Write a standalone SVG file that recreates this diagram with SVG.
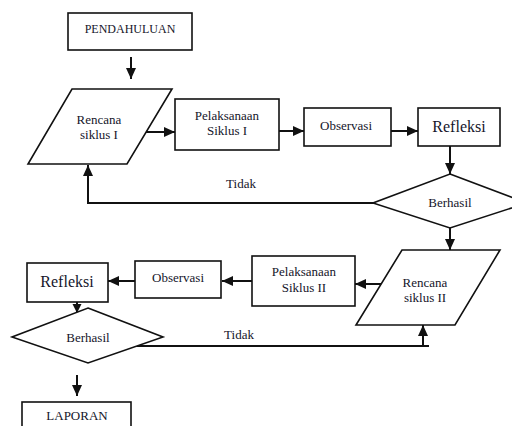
<svg xmlns="http://www.w3.org/2000/svg" width="512" height="426" viewBox="0 0 512 426">
<style>
.box{fill:#fff;stroke:#111;stroke-width:1.6}
.ln{fill:none;stroke:#111;stroke-width:2}
.t{font-family:'Liberation Serif','DejaVu Serif',serif;fill:#15152a;font-size:13px;text-anchor:middle}
.big{font-size:16px}
.sm{font-size:12px}
</style>
<defs>
<marker id="ah" markerUnits="userSpaceOnUse" markerWidth="12" markerHeight="12" viewBox="0 0 12 12" refX="11" refY="6" orient="auto">
<path d="M0,1 L11,6 L0,11 Z" fill="#111"/>
</marker>
<marker id="ahs" markerUnits="userSpaceOnUse" markerWidth="10" markerHeight="10" viewBox="0 0 10 10" refX="9" refY="5" orient="auto">
<path d="M0,0.5 L9,5 L0,9.5 Z" fill="#111"/>
</marker>
</defs>
<rect width="512" height="426" fill="#fff"/>
<g id="connectors">
<line class="ln" x1="131" y1="57" x2="131" y2="79" marker-end="url(#ah)"/>
<line class="ln" x1="146" y1="132" x2="175" y2="132" marker-end="url(#ah)"/>
<line class="ln" x1="279" y1="131" x2="304" y2="131" marker-end="url(#ah)"/>
<line class="ln" x1="391" y1="131" x2="418" y2="131" marker-end="url(#ah)"/>
<line class="ln" x1="450" y1="146" x2="450" y2="174" marker-end="url(#ah)"/>
<path class="ln" d="M396,203 L88,203 L88,165" marker-end="url(#ah)"/>
<line class="ln" x1="450" y1="228" x2="450" y2="250" marker-end="url(#ah)"/>
<line class="ln" x1="381" y1="284" x2="355" y2="284" marker-end="url(#ah)"/>
<line class="ln" x1="252" y1="281" x2="222" y2="281" marker-end="url(#ah)"/>
<line class="ln" x1="135" y1="281" x2="108" y2="281" marker-end="url(#ah)"/>
<line class="ln" x1="77" y1="302" x2="77" y2="313" marker-end="url(#ahs)"/>
<path class="ln" d="M119,346 L429,346"/>
<line class="ln" x1="423" y1="346" x2="423" y2="325" marker-end="url(#ah)"/>
<line class="ln" x1="77" y1="375" x2="77" y2="396" marker-end="url(#ah)"/>
<text class="t" x="241" y="188">Tidak</text>
<text class="t" x="239" y="339">Tidak</text>
</g>
<g id="pendahuluan">
<rect class="box" x="68" y="13" width="124" height="37"/>
<text class="t sm" x="130" y="33">PENDAHULUAN</text>
</g>
<g id="rencana1">
<polygon class="box" points="72,89 172,89 127,164 28,164"/>
<text class="t" x="99" y="124">Rencana</text>
<text class="t" x="99" y="139">siklus I</text>
</g>
<g id="pelaksanaan1">
<rect class="box" x="175" y="99" width="104" height="51"/>
<text class="t" x="227" y="120">Pelaksanaan</text>
<text class="t" x="227" y="135">Siklus I</text>
</g>
<g id="observasi1">
<rect class="box" x="304" y="108" width="87" height="38"/>
<text class="t" x="346" y="130">Observasi</text>
</g>
<g id="refleksi1">
<rect class="box" x="418" y="108" width="82" height="38"/>
<text class="t big" x="459" y="132">Refleksi</text>
</g>
<g id="berhasil1">
<polygon class="box" points="450,174 527,203 450,228 373,203"/>
<text class="t" x="450" y="207">Berhasil</text>
</g>
<g id="rencana2">
<polygon class="box" points="402,250 500,250 455,325 356,325"/>
<text class="t" x="425" y="287">Rencana</text>
<text class="t" x="425" y="302">siklus II</text>
</g>
<g id="pelaksanaan2">
<rect class="box" x="252" y="256" width="103" height="50"/>
<text class="t" x="304" y="276">Pelaksanaan</text>
<text class="t" x="304" y="292">Siklus II</text>
</g>
<g id="observasi2">
<rect class="box" x="135" y="261" width="86" height="37"/>
<text class="t" x="178" y="282">Observasi</text>
</g>
<g id="refleksi2">
<rect class="box" x="27" y="263" width="81" height="39"/>
<text class="t big" x="67" y="287">Refleksi</text>
</g>
<g id="berhasil2">
<polygon class="box" points="88,308 163,337 88,363 12,337"/>
<text class="t" x="88" y="342">Berhasil</text>
</g>
<g id="laporan">
<rect class="box" x="22" y="402" width="109" height="34"/>
<text class="t" x="77" y="420">LAPORAN</text>
</g>
</svg>
